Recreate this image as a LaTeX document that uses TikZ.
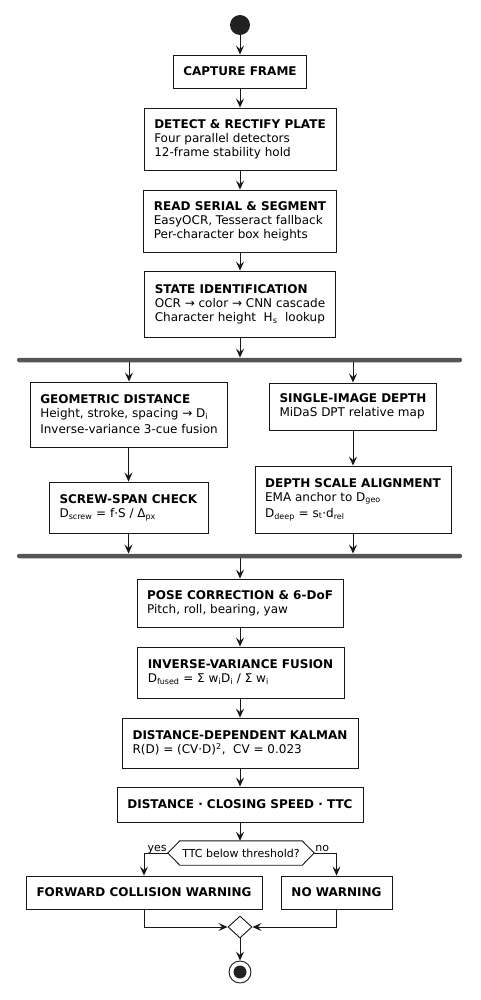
\documentclass[tikz,border=0pt]{standalone}
\usepackage{fontspec}
\setmainfont{DejaVu Sans}
\usetikzlibrary{arrows.meta,shapes.geometric}
\definecolor{lc}{HTML}{181818}
\definecolor{barc}{HTML}{555555}
\definecolor{startc}{HTML}{222222}
\begin{document}
\begin{tikzpicture}[x=1pt,y=-1pt,
  box/.style={draw=lc, fill=white, line width=0.9pt, inner xsep=10pt, inner ysep=0pt, align=left, font=\fontsize{12}{14}\selectfont, text=black},
  cbox/.style={box, align=center},
  bar/.style={fill=barc, rounded corners=2pt, minimum width=445pt, minimum height=4.5pt, inner sep=0pt},
  arr/.style={draw=lc, line width=0.9pt, -{Stealth[length=9pt,width=8pt,inset=3.5pt]}},
  lbl/.style={font=\fontsize{11}{13}\selectfont, inner sep=0pt, text=black}
]
\useasboundingbox (0,0) rectangle (481,1000);

\node[circle, fill=startc, minimum size=20pt, inner sep=0pt] (start) at (240,25) {};

\node[cbox, minimum width=132pt, minimum height=33pt] (capture) at (240,71.5) {\textbf{CAPTURE FRAME}};
\node[box, minimum width=192pt, minimum height=62pt] (detect) at (240,139) {\textbf{DETECT \& RECTIFY PLATE}\\Four parallel detectors\\12-frame stability hold};
\node[box, minimum width=192pt, minimum height=62pt] (read) at (240,221) {\textbf{READ SERIAL \& SEGMENT}\\EasyOCR, Tesseract fallback\\Per-character box heights};
\node[box, minimum width=190pt, minimum height=66pt] (state) at (240,304) {\textbf{STATE IDENTIFICATION}\\OCR → color → CNN cascade\\Character height\ \ H\textsubscript{s}\ \ lookup};

\node[bar] (fork1) at (239.5,360) {};

\node[box, minimum width=196pt, minimum height=65pt] (geo) at (129,414.5) {\textbf{GEOMETRIC DISTANCE}\\Height, stroke, spacing → D\textsubscript{i}\\[2pt]Inverse-variance 3-cue fusion};
\node[box, minimum width=166pt, minimum height=47pt] (single) at (353,406.5) {\textbf{SINGLE-IMAGE DEPTH}\\MiDaS DPT relative map};
\node[box, minimum width=159pt, minimum height=51pt] (screw) at (128.5,507.5) {\textbf{SCREW-SPAN CHECK}\\D\textsubscript{screw} = f·S / Δ\textsubscript{px}};
\node[box, minimum width=196pt, minimum height=67pt] (depth) at (353,499.5) {\textbf{DEPTH SCALE ALIGNMENT}\\EMA anchor to D\textsubscript{geo}\\[2pt]D\textsubscript{deep} = s\textsubscript{t}·d\textsubscript{rel}};

\node[bar] (fork2) at (239.5,556) {};

\node[box, minimum width=206pt, minimum height=48pt] (pose) at (240,603) {\textbf{POSE CORRECTION \& 6-DoF}\\Pitch, roll, bearing, yaw};
\node[box, minimum width=207pt, minimum height=51pt] (invvar) at (240.5,672.5) {\textbf{INVERSE-VARIANCE FUSION}\\D\textsubscript{fused} = Σ w\textsubscript{i}D\textsubscript{i} / Σ w\textsubscript{i}};
\node[box, minimum width=236pt, minimum height=50pt] (kalman) at (240,743) {\textbf{DISTANCE-DEPENDENT KALMAN}\\R(D) = (CV·D)\textsuperscript{2},\ \ CV = 0.023};
\node[cbox, minimum width=246pt, minimum height=35pt] (dist) at (240,804.5) {\textbf{DISTANCE · CLOSING SPEED · TTC}};

\node[font=\fontsize{11}{13}\selectfont, minimum width=122pt, minimum height=24pt, inner sep=0pt] (dec) at (241,853) {TTC below threshold?};
\coordinate (decL) at ([xshift=-12pt]dec.west);
\coordinate (decR) at ([xshift=12pt]dec.east);
\draw[lc, line width=0.9pt] (dec.north west) -- (dec.north east) -- (decR) -- (dec.south east) -- (dec.south west) -- (decL) -- cycle;
\node[lbl, anchor=base east] (yes) at ([xshift=-1pt,yshift=2pt]decL) {yes};
\node[lbl, anchor=base west] (no) at ([xshift=1pt,yshift=2pt]decR) {no};

\node[cbox, minimum width=236pt, minimum height=33pt] (fcw) at (144,892.5) {\textbf{FORWARD COLLISION WARNING}};
\node[cbox, minimum width=111pt, minimum height=33pt] (nowarn) at (336.5,892.5) {\textbf{NO WARNING}};

\node[diamond, draw=lc, fill=white, line width=0.9pt, minimum width=24pt, minimum height=22pt, inner sep=0pt] (merge) at (240,927) {};
\node[circle, draw=lc, line width=0.9pt, minimum size=22pt, inner sep=0pt] (stop) at (240,972) {};
\node[circle, fill=startc, minimum size=13pt, inner sep=0pt] (stopin) at (stop) {};

\draw[arr] (start) -- (capture);
\draw[arr] (capture) -- (detect);
\draw[arr] (detect) -- (read);
\draw[arr] (read) -- (state);
\draw[arr] (state.south) -- (state.south |- fork1.north);
\draw[arr] (fork1.south -| geo) -- (geo.north);
\draw[arr] (fork1.south -| single) -- (single.north);
\draw[arr] (geo.south -| screw) -- (screw.north);
\draw[arr] (single.south) -- (depth.north);
\draw[arr] (screw.south) -- (screw.south |- fork2.north);
\draw[arr] (depth.south) -- (depth.south |- fork2.north);
\draw[arr] (fork2.south -| pose) -- (pose.north);
\draw[arr] (pose.south) -- (pose.south |- invvar.north);
\draw[arr] (invvar.south -| kalman) -- (kalman.north);
\draw[arr] (kalman) -- (dist);
\draw[arr] (dist.south) -- (dist.south |- dec.north);
\draw[arr] (decL) -| (fcw.north);
\draw[arr] (decR) -| (nowarn.north);
\draw[arr] (fcw.south) |- (merge.west);
\draw[arr] (nowarn.south) |- (merge.east);
\draw[arr] (merge.south) -- (stop.north);
\end{tikzpicture}
\end{document}
